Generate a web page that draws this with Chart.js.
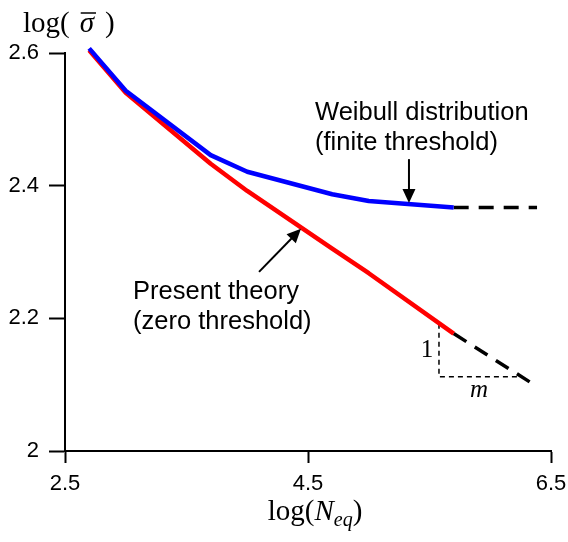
<!DOCTYPE html>
<html>
<head>
<meta charset="utf-8">
<script src="https://cdn.jsdelivr.net/npm/chart.js@4/dist/chart.umd.min.js"></script>
<style>
  html, body { margin: 0; padding: 0; background: #fff; }
  #wrap { width: 568px; height: 542px; position: relative; }
</style>
</head>
<body>
<div id="wrap"><canvas id="fatigue"></canvas></div>
<script>
// log of equivalent cycles, sampled at N = 500, 1e3, 5e3, 1e4, 5e4, 1e5, 5e5
const logN = [2.699, 3.0, 3.699, 4.0, 4.699, 5.0, 5.699];
const weibullStress = [2.607, 2.543, 2.446, 2.421, 2.387, 2.377, 2.367];
const presentStress = [2.604, 2.540, 2.433, 2.392, 2.305, 2.268, 2.177];

// dashed extrapolations past the last computed point
const weibullTailX = [5.699, 6.385];
const weibullTailY = [2.367, 2.367];
const presentTailX = [5.699, 6.377];
const presentTailY = [2.177, 2.098];

// slope triangle: rise 1 over run m
const slopeX = [5.578, 5.578, 6.237];
const slopeY = [2.192, 2.112, 2.112];

const xTicks = [2.5, 4.5, 6.5];
const xTickLabels = ['2.5', '4.5', '6.5'];
const yTicks = [2, 2.2, 2.4, 2.6];
const yTickLabels = ['2', '2.2', '2.4', '2.6'];

// callouts, positioned in data units
const captions = [
  { lines: ['Weibull distribution', '(finite threshold)'], x: 4.558, y: 2.499 },
  { lines: ['Present theory', '(zero threshold)'], x: 3.060, y: 2.229 },
];
const arrows = [
  { from: [5.331, 2.440], to: [5.331, 2.374] },
  { from: [4.097, 2.270], to: [4.442, 2.335] },
];
const slopeMarks = [
  { text: '1', x: 5.479, y: 2.151, italic: false },
  { text: 'm', x: 5.907, y: 2.091, italic: true },
];

const SANS = '"Liberation Sans", Arial, sans-serif';
const SERIF = '"Liberation Serif", "Times New Roman", serif';

function pairs(xs, ys) {
  return xs.map((x, i) => ({ x: x, y: ys[i] }));
}

function arrowHead(ctx, x0, y0, x1, y1, len, half) {
  const a = Math.atan2(y1 - y0, x1 - x0);
  ctx.beginPath();
  ctx.moveTo(x1, y1);
  ctx.lineTo(x1 - len * Math.cos(a) + half * Math.sin(a), y1 - len * Math.sin(a) - half * Math.cos(a));
  ctx.lineTo(x1 - len * Math.cos(a) - half * Math.sin(a), y1 - len * Math.sin(a) + half * Math.cos(a));
  ctx.closePath();
  ctx.fill();
}

const annotations = {
  id: 'annotations',
  afterDraw(chart) {
    const ctx = chart.ctx;
    const sx = chart.scales.x, sy = chart.scales.y;
    const area = chart.chartArea;
    ctx.save();
    ctx.fillStyle = '#000';
    ctx.strokeStyle = '#000';
    ctx.textBaseline = 'alphabetic';

    ctx.font = '25.5px ' + SANS;
    ctx.textAlign = 'left';
    captions.forEach(c => {
      const px = sx.getPixelForValue(c.x), py = sy.getPixelForValue(c.y);
      c.lines.forEach((t, i) => ctx.fillText(t, px, py + i * 30));
    });

    ctx.lineWidth = 2;
    arrows.forEach(a => {
      const x0 = sx.getPixelForValue(a.from[0]), y0 = sy.getPixelForValue(a.from[1]);
      const x1 = sx.getPixelForValue(a.to[0]), y1 = sy.getPixelForValue(a.to[1]);
      const ang = Math.atan2(y1 - y0, x1 - x0);
      ctx.beginPath();
      ctx.moveTo(x0, y0);
      ctx.lineTo(x1 - 8 * Math.cos(ang), y1 - 8 * Math.sin(ang));
      ctx.stroke();
      arrowHead(ctx, x0, y0, x1, y1, 14, 6.5);
    });

    ctx.textAlign = 'center';
    ctx.textBaseline = 'middle';
    slopeMarks.forEach(m => {
      ctx.font = (m.italic ? 'italic ' : '') + '25px ' + SERIF;
      ctx.fillText(m.text, sx.getPixelForValue(m.x), sy.getPixelForValue(m.y));
    });

    // y-axis title: log(σ̄ )
    ctx.textAlign = 'left';
    ctx.textBaseline = 'alphabetic';
    let x = area.left - 42;
    const yb = area.top - 21;
    ctx.font = '29px ' + SERIF;
    ctx.fillText('log(', x, yb);
    x += ctx.measureText('log(').width + 10;
    ctx.font = 'italic 29px ' + SERIF;
    const sw = ctx.measureText('σ').width;
    ctx.fillText('σ', x, yb);
    ctx.lineWidth = 1.5;
    ctx.beginPath();
    ctx.moveTo(x + 1, yb - 19);
    ctx.lineTo(x + sw + 2, yb - 19);
    ctx.stroke();
    x += sw + 11;
    ctx.font = '29px ' + SERIF;
    ctx.fillText(')', x, yb);

    // x-axis title: log(N_eq)
    const parts = [
      { t: 'log(', f: '29px ' + SERIF, dy: 0 },
      { t: 'N', f: 'italic 29px ' + SERIF, dy: 0 },
      { t: 'eq', f: 'italic 20px ' + SERIF, dy: 6 },
      { t: ')', f: '29px ' + SERIF, dy: 0 },
    ];
    let total = 0;
    parts.forEach(p => { ctx.font = p.f; p.w = ctx.measureText(p.t).width; total += p.w; });
    x = (area.left + area.right) / 2 + 7 - total / 2;
    const xb = area.bottom + 69;
    parts.forEach(p => {
      ctx.font = p.f;
      ctx.fillText(p.t, x, xb + p.dy);
      x += p.w;
    });
    ctx.restore();
  }
};

const ctx = document.getElementById('fatigue').getContext('2d');
const chart = new Chart(ctx, {
  type: 'line',
  data: {
    datasets: [
      { label: 'Weibull distribution', data: pairs(logN, weibullStress), borderColor: '#0000ff', borderWidth: 4.5 },
      { label: 'Present theory', data: pairs(logN, presentStress), borderColor: '#ff0000', borderWidth: 4.5 },
      { label: 'Weibull tail', data: pairs(weibullTailX, weibullTailY), borderColor: '#000', borderWidth: 3.5, borderDash: [15, 10] },
      { label: 'Present tail', data: pairs(presentTailX, presentTailY), borderColor: '#000', borderWidth: 3.5, borderDash: [15, 10] },
      { label: 'Slope', data: pairs(slopeX, slopeY), borderColor: '#000', borderWidth: 1.5, borderDash: [5, 4], borderJoinStyle: 'miter' },
    ]
  },
  options: {
    responsive: true,
    maintainAspectRatio: false,
    animation: false,
    layout: { padding: { top: 53, right: 17, left: 0, bottom: 0 } },
    elements: {
      point: { radius: 0, hoverRadius: 0 },
      line: { tension: 0, fill: false, borderJoinStyle: 'round' },
    },
    datasets: { line: { clip: false } },
    plugins: { legend: { display: false }, tooltip: { enabled: false } },
    scales: {
      x: {
        type: 'linear',
        min: 2.5,
        max: 6.5,
        afterBuildTicks: s => { s.ticks = xTicks.map(v => ({ value: v })); },
        afterFit: s => { s.height = 91; s.paddingLeft = 0; s.paddingRight = 17; },
        ticks: {
          callback: (v, i) => xTickLabels[i],
          color: '#000',
          font: { family: SANS, size: 22 },
          padding: 8,
          maxRotation: 0,
          autoSkip: false,
        },
        grid: { drawOnChartArea: false, tickLength: 12, tickWidth: 2, tickColor: '#000' },
        border: { color: '#000', width: 2 },
      },
      y: {
        type: 'linear',
        min: 2,
        max: 2.6,
        afterBuildTicks: s => { s.ticks = yTicks.map(v => ({ value: v })); },
        afterFit: s => { s.width = 65; },
        ticks: {
          callback: (v, i) => yTickLabels[i],
          color: '#000',
          font: { family: SANS, size: 22 },
          padding: 10,
          autoSkip: false,
        },
        grid: { drawOnChartArea: false, tickLength: 16, tickWidth: 2, tickColor: '#000' },
        border: { color: '#000', width: 2 },
      },
    },
  },
  plugins: [annotations],
});
</script>
</body>
</html>
